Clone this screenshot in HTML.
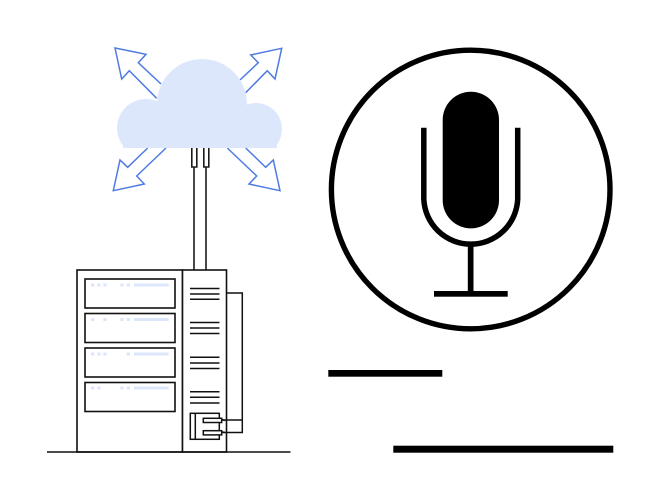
<!DOCTYPE html>
<html>
<head>
<meta charset="utf-8">
<style>
html,body{margin:0;padding:0;background:#fff;width:660px;height:500px;overflow:hidden}
svg{display:block}
</style>
</head>
<body>
<svg width="660" height="500" viewBox="0 0 660 500" xmlns="http://www.w3.org/2000/svg">
<defs><clipPath id="c"><rect x="100" y="40" width="200" height="108"/></clipPath></defs>
<rect width="660" height="500" fill="#fff"/>
<g fill="none" stroke="#4f7be3" stroke-width="1.5" stroke-linejoin="miter">
<path d="M161 84L138.3 62.7L146 54.3L115 48L121.7 79L129.3 70.7L156.7 98.3"/>
<path d="M240 80L258.3 62.7L250.7 55L281.7 48.3L275 79L267.3 70.7L245.7 92.7"/>
<path d="M147.700 148L127.700 167.300L120 160L113.300 190.700L144.300 184L136.700 176L166 148"/>
<path d="M227.300 148L256.700 176L249 184L280 190.700L273.300 160L265.700 167.300L245.700 148"/>
</g>
<g fill="#dce7fb" clip-path="url(#c)">
<circle cx="202" cy="104" r="45"/>
<circle cx="146" cy="128" r="29"/>
<circle cx="256" cy="129" r="26"/>
<rect x="123" y="120" width="154" height="28"/>
</g>
<g fill="none" stroke="#1a1a1a" stroke-width="1.600">
<path d="M191.800 148V167H196.800V148"/>
<path d="M203.800 148V167H208.800V148"/>
<path d="M194 167V270"/>
<path d="M206 167V270"/>
</g>
<g fill="#fff" stroke="#111" stroke-width="1.600">
<rect x="77" y="270" width="105.500" height="182"/>
<rect x="182.500" y="270" width="44" height="182"/>
<rect x="85" y="279" width="90" height="29"/>
<rect x="85" y="313.500" width="90" height="29"/>
<rect x="85" y="348" width="90" height="29"/>
<rect x="85" y="382.500" width="90" height="29"/>
</g>
<g fill="#dce7fb">
<rect x="91" y="283.500" width="3.300" height="3"/><rect x="97.300" y="283.500" width="3.300" height="3"/><rect x="103.300" y="283.500" width="3.300" height="3"/><rect x="120.300" y="283.500" width="3.300" height="3"/><rect x="126.700" y="283.500" width="3.300" height="3"/><rect x="134" y="283.500" width="34.700" height="3"/>
<rect x="91" y="318" width="3.300" height="3"/><rect x="103.300" y="318" width="3.300" height="3"/><rect x="120.300" y="318" width="3.300" height="3"/><rect x="126.700" y="318" width="3.300" height="3"/><rect x="134" y="318" width="34.700" height="3"/>
<rect x="91" y="352.500" width="3.300" height="3"/><rect x="97.300" y="352.500" width="3.300" height="3"/><rect x="103.300" y="352.500" width="3.300" height="3"/><rect x="126.700" y="352.500" width="3.300" height="3"/><rect x="134" y="352.500" width="34.700" height="3"/>
<rect x="91" y="386.500" width="3.300" height="3"/><rect x="97.300" y="386.500" width="3.300" height="3"/><rect x="120.300" y="386.500" width="3.300" height="3"/><rect x="126.700" y="386.500" width="3.300" height="3"/><rect x="134" y="386.500" width="34.700" height="3"/>
</g>
<g fill="none" stroke="#111" stroke-width="1.500">
<path d="M190 288.500H219.500M190 294H219.500M190 299.300H219.500"/>
<path d="M190 322.500H219.500M190 328H219.500M190 333.500H219.500"/>
<path d="M190 357.300H219.500M190 363H219.500M190 368.500H219.500"/>
<path d="M190 391.700H219.500M190 397.300H219.500M190 403H219.500"/>
<path d="M226.500 293H242.300V432.500H222.500"/>
<path d="M222.500 420H242.300"/>
<rect x="190.300" y="413.300" width="29" height="26" fill="#fff"/>
<path d="M195.300 413.300V439.300"/>
<rect x="203.300" y="418.300" width="18.400" height="4.200" fill="#fff"/>
<rect x="203.300" y="430.700" width="18.400" height="4.200" fill="#fff"/>
<path d="M221.700 419.500L225 420.500M221.700 431.800L225 432.500"/>
<path d="M47 452H290.500"/>
</g>
<circle cx="470.700" cy="189.500" r="139.300" fill="none" stroke="#000" stroke-width="5.400"/>
<rect x="442.700" y="91.700" width="56.300" height="136.700" rx="28.150" ry="28.150" fill="#000"/>
<path d="M423.800 127.700V199.300A47 47 0 0 0 517.700 199.300V127.700" fill="none" stroke="#000" stroke-width="5.500"/>
<rect x="467.800" y="246" width="5.700" height="47" fill="#000"/>
<rect x="434" y="291" width="73.700" height="5.700" fill="#000"/>
<rect x="328.300" y="370" width="114" height="6.700" fill="#000"/>
<rect x="393.300" y="445.700" width="220" height="7" fill="#000"/>
</svg>
</body>
</html>
